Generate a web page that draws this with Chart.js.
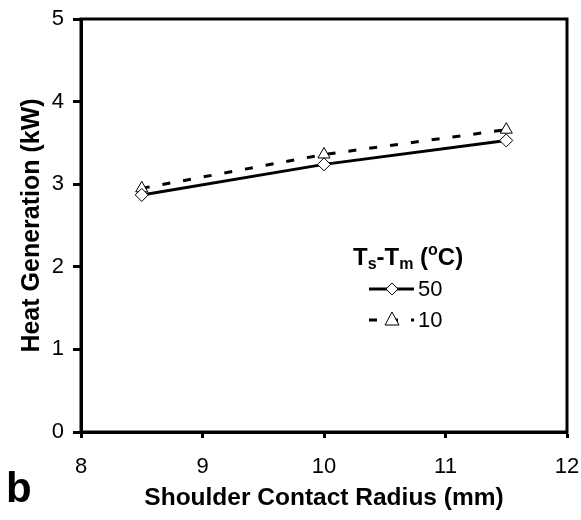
<!DOCTYPE html>
<html>
<head>
<meta charset="utf-8">
<script src="https://cdn.jsdelivr.net/npm/chart.js@4"></script>
<style>
html,body{margin:0;padding:0;background:#fff;}
#wrap{width:581px;height:520px;}
</style>
</head>
<body>
<div id="wrap"><canvas id="c" width="581" height="520"></canvas></div>
<script>
const radius = [8.5, 10, 11.5];
const heat50 = [2.87, 3.24, 3.53];
const heat10 = [2.95, 3.36, 3.66];
const seriesNames = ['50', '10'];
const xTitle = 'Shoulder Contact Radius (mm)';
const yTitle = 'Heat Generation (kW)';
const panelLabel = 'b';

const FONT = "'Liberation Sans', Arial, sans-serif";

const framePlugin = {
  id: 'frame',
  beforeDatasetsDraw(chart) {
    const {ctx, chartArea: a} = chart;
    ctx.save();
    ctx.strokeStyle = '#000';
    ctx.lineWidth = 3;
    ctx.strokeRect(a.left, a.top, a.right - a.left, a.bottom - a.top);
    ctx.restore();
  },
  afterDraw(chart) {
    const ctx = chart.ctx;
    ctx.save();
    ctx.fillStyle = '#000';
    ctx.textBaseline = 'alphabetic';
    ctx.font = "bold 42px " + FONT;
    ctx.fillText(panelLabel, 6, 502);
    let x = 353, y = 265;
    const big = "bold 24px " + FONT, small = "bold 16px " + FONT;
    const part = (t, f, dy) => { ctx.font = f; ctx.fillText(t, x, y + dy); x += ctx.measureText(t).width; };
    part('T', big, 0); part('s', small, 4); part('-T', big, 0); part('m', small, 4);
    part(' (', big, 0); part('o', small, -10); part('C)', big, 0);
    const entries = [
      {y: 289, dash: [], marker: 'diamond', label: seriesNames[0]},
      {y: 320, dash: [8, 13], marker: 'triangle', label: seriesNames[1]}
    ];
    entries.forEach(e => {
      ctx.beginPath();
      ctx.setLineDash(e.dash);
      ctx.lineWidth = 3;
      ctx.strokeStyle = '#000';
      ctx.moveTo(369, e.y); ctx.lineTo(414, e.y);
      ctx.stroke();
      ctx.setLineDash([]);
      ctx.lineWidth = 1;
      ctx.fillStyle = '#fff';
      ctx.beginPath();
      if (e.marker === 'diamond') {
        ctx.moveTo(392, e.y - 6); ctx.lineTo(398, e.y); ctx.lineTo(392, e.y + 6); ctx.lineTo(386, e.y); ctx.closePath();
      } else {
        ctx.moveTo(392, e.y - 8); ctx.lineTo(399, e.y + 5); ctx.lineTo(385, e.y + 5); ctx.closePath();
      }
      ctx.fill(); ctx.stroke();
      ctx.fillStyle = '#000';
      ctx.font = "22px " + FONT;
      ctx.textBaseline = 'middle';
      ctx.fillText(e.label, 418, e.y + 1);
      ctx.textBaseline = 'alphabetic';
    });
    ctx.restore();
  }
};

new Chart(document.getElementById('c'), {
  type: 'line',
  data: {
    datasets: [
      {
        label: seriesNames[0],
        data: radius.map((r, i) => ({x: r, y: heat50[i]})),
        borderColor: '#000', borderWidth: 3,
        pointStyle: 'rectRot', pointRadius: 6.5, pointBorderWidth: 1,
        pointBackgroundColor: '#fff', pointBorderColor: '#000',
        tension: 0, fill: false
      },
      {
        label: seriesNames[1],
        data: radius.map((r, i) => ({x: r, y: heat10[i]})),
        borderColor: '#000', borderWidth: 3, borderDash: [8, 13],
        pointStyle: 'triangle', pointRadius: 7, pointBorderWidth: 1,
        pointBackgroundColor: '#fff', pointBorderColor: '#000',
        tension: 0, fill: false
      }
    ]
  },
  options: {
    responsive: false,
    animation: false,
    devicePixelRatio: 1,
    layout: {padding: {top: 19, right: 14, left: 0, bottom: 0}},
    plugins: {legend: {display: false}, tooltip: {enabled: false}},
    scales: {
      x: {
        type: 'linear', min: 8, max: 12,
        ticks: {stepSize: 1, color: '#000', font: {family: FONT, size: 22}, padding: 16, maxRotation: 0},
        grid: {drawOnChartArea: false, drawTicks: true, tickLength: 6, tickWidth: 3, tickColor: '#000'},
        border: {display: true, color: '#000', width: 3},
        title: {display: true, text: xTitle, color: '#000', font: {family: FONT, size: 24.5, weight: 'bold'}, padding: {top: 0, bottom: 7}},
        afterFit(s) { s.height = 88; s.paddingLeft = 0; s.paddingRight = 0; }
      },
      y: {
        min: 0, max: 5,
        ticks: {stepSize: 1, color: '#000', font: {family: FONT, size: 22}, padding: 9},
        grid: {drawOnChartArea: false, drawTicks: true, tickLength: 8, tickWidth: 3, tickColor: '#000'},
        border: {display: true, color: '#000', width: 3},
        title: {display: true, text: yTitle, color: '#000', font: {family: FONT, size: 25, weight: 'bold'}, padding: {top: 17, bottom: 0}},
        afterFit(s) { s.width = 81; s.paddingTop = 0; s.paddingBottom = 0; }
      }
    }
  },
  plugins: [framePlugin]
});
</script>
</body>
</html>
